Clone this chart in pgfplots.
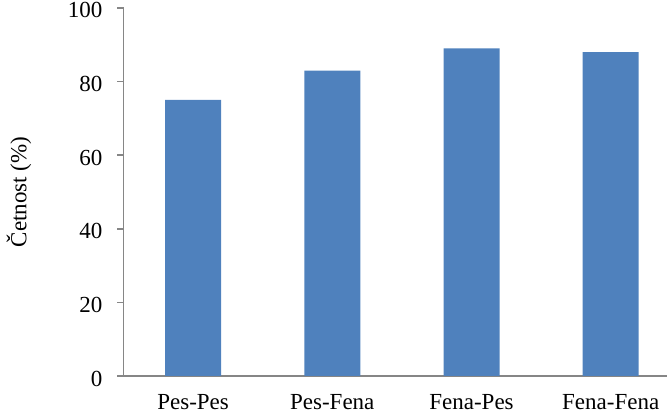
\documentclass[border=0pt]{standalone}
\usepackage{fontspec}
\setmainfont{Liberation Serif}
\usepackage{pgfplots}
\pgfplotsset{compat=1.18}
\definecolor{barblue}{HTML}{4F81BD}
\definecolor{axisgray}{HTML}{868686}

\begin{document}
\fontsize{23bp}{27bp}\selectfont
\begin{tikzpicture}
    \begin{axis}[
        at={(123.5bp,38bp)}, anchor=south west,
        scale only axis,
        width=556.8bp, height=368bp,
        ybar, bar width=56bp, bar shift=0pt,
        xmin=-0.5, xmax=3.5,
        ymin=0, ymax=100,
        ytick={0,20,...,100},
        xtick=data,
        xticklabels={Pes-Pes,Pes-Fena,Fena-Pes,Fena-Fena},
        axis x line*=bottom, axis y line*=left,
        axis line style={axisgray, line width=1.6bp, -},
        x tick style={draw=none},
        y tick style={axisgray, line width=1.6bp},
        tick align=outside, major tick length=6bp,
        /pgf/number format/assume math mode=true,
        yticklabel style={anchor=east, inner sep=0pt, text height=15bp, text depth=0pt, xshift=-15bp, yshift=-2.5bp},
        xticklabel style={anchor=north, inner sep=0pt, text depth=0pt, yshift=-12bp},
        ylabel={Četnost (\%)},
        ylabel style={at={(axis description cs:-0.1877,0.5)}, anchor=center},
    ]
        \addplot[fill=barblue, draw=none] coordinates {(0,75) (1,83) (2,89) (3,88)};
    \end{axis}
    \pgfresetboundingbox
    \path[use as bounding box] (0,0) rectangle (667bp,414bp);
\end{tikzpicture}
\end{document}
